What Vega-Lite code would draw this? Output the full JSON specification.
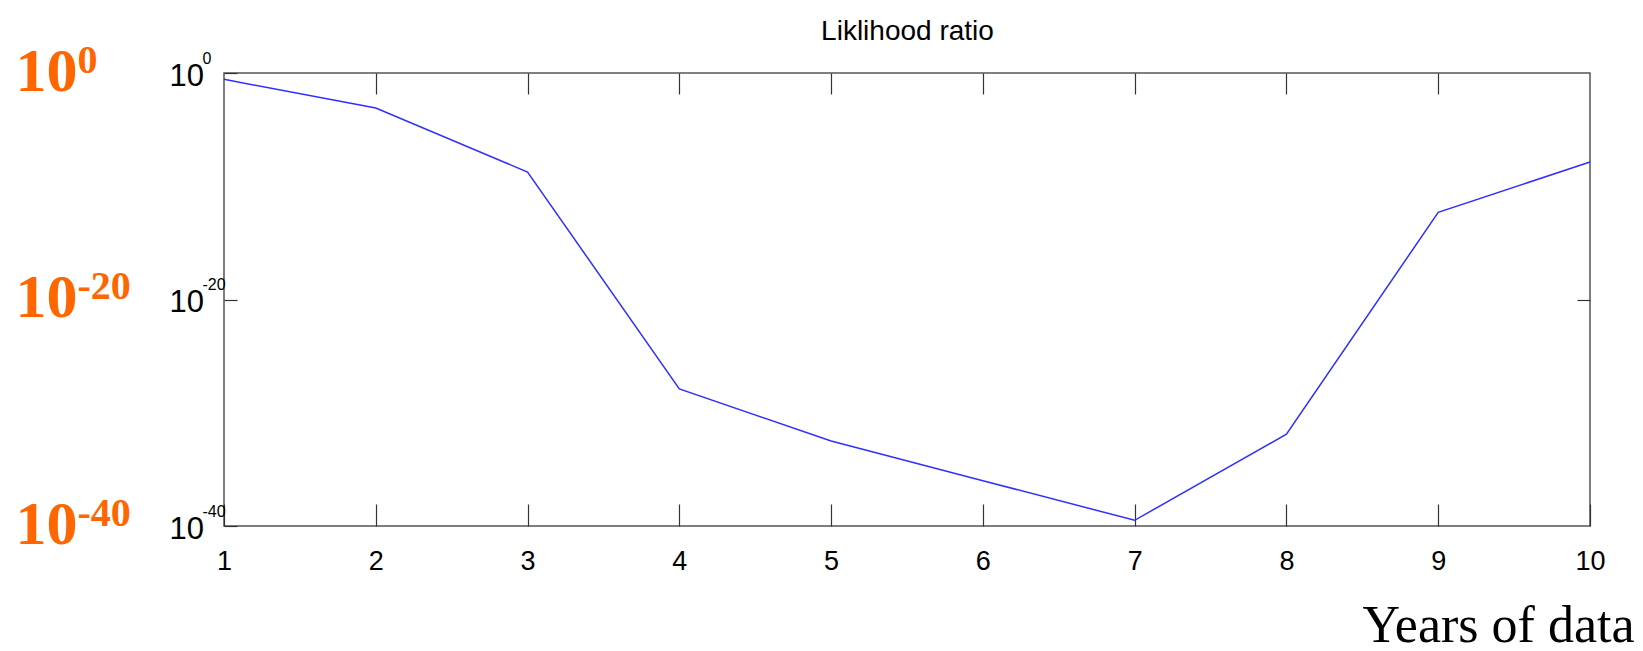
{
  "$schema": "https://vega.github.io/schema/vega-lite/v6.json",
  "width": 1366,
  "height": 453,
  "autosize": {"type": "none"},
  "padding": {"left": 224, "top": 73, "right": 53, "bottom": 125},
  "background": "white",
  "config": {"view": {"stroke": "#555555", "strokeWidth": 1.5}},
  "data": {
    "values": [
      {"year": 1, "ratio": 0.275},
      {"year": 2, "ratio": 8.1e-4},
      {"year": 3, "ratio": 1.8e-9},
      {"year": 4, "ratio": 1.26e-28},
      {"year": 5, "ratio": 3.2e-33},
      {"year": 6, "ratio": 1e-36},
      {"year": 7, "ratio": 3.2e-40},
      {"year": 8, "ratio": 1.26e-32},
      {"year": 9, "ratio": 5e-13},
      {"year": 10, "ratio": 1.4e-8}
    ]
  },
  "layer": [
    {
      "mark": {"type": "line", "color": "#2f2fff", "strokeWidth": 1.5},
      "encoding": {
        "x": {
          "field": "year", "type": "quantitative",
          "scale": {"domain": [1, 10], "nice": false, "zero": false},
          "axis": {
            "orient": "bottom", "values": [1, 2, 3, 4, 5, 6, 7, 8, 9, 10],
            "title": "Years of data", "domain": false, "grid": false,
            "tickSize": -22, "tickColor": "#333333", "tickWidth": 1.2,
            "labelPadding": 44, "labelFlush": false,
            "labelFont": "Liberation Sans Narrow, Liberation Sans, sans-serif",
            "labelFontSize": 27, "labelColor": "black",
            "titleFont": "Liberation Serif, Times New Roman, serif",
            "titleFontSize": 52, "titleFontWeight": "normal", "titleColor": "black",
            "titleAnchor": "end", "titleAlign": "right", "titleBaseline": "alphabetic",
            "titleX": 1410, "titleY": 115
          }
        },
        "y": {
          "field": "ratio", "type": "quantitative",
          "scale": {"type": "log", "domain": [1e-40, 1], "nice": false},
          "axis": {
            "orient": "left", "values": [1, 1e-20, 1e-40],
            "title": null, "domain": false, "grid": false,
            "tickSize": -13, "tickColor": "#333333", "tickWidth": 1.2,
            "labelPadding": 68, "labelAlign": "left", "labelBaseline": "middle", "labelOffset": 3,
            "labelExpr": "'10'",
            "labelFont": "Liberation Sans Narrow, Liberation Sans, sans-serif",
            "labelFontSize": 31, "labelColor": "black"
          }
        }
      }
    },
    {
      "mark": {"type": "line", "opacity": 0},
      "encoding": {
        "x": {
          "field": "year", "type": "quantitative",
          "axis": {
            "orient": "top", "values": [2, 3, 4, 5, 6, 7, 8, 9],
            "title": "Liklihood ratio",
            "titleFont": "Liberation Sans Narrow, Liberation Sans, sans-serif",
            "titleFontSize": 28, "titleFontWeight": "normal", "titleColor": "black",
            "titleAnchor": "middle", "titleAlign": "center", "titleBaseline": "alphabetic",
            "titleX": 683, "titleY": -34,
            "domain": false, "grid": false, "labels": false,
            "tickSize": -21, "tickColor": "#333333", "tickWidth": 1.2
          }
        },
        "y": {
          "field": "ratio", "type": "quantitative",
          "axis": {
            "orient": "right", "values": [1e-20], "title": null,
            "domain": false, "grid": false, "labels": false,
            "tickSize": -13, "tickColor": "#333333", "tickWidth": 1.2
          }
        }
      }
    },
    {
      "mark": {"type": "line", "opacity": 0},
      "encoding": {
        "x": {"field": "year", "type": "quantitative", "axis": null},
        "y": {
          "field": "ratio", "type": "quantitative",
          "axis": {
            "orient": "left", "values": [1, 1e-20, 1e-40], "title": null,
            "domain": false, "grid": false, "ticks": false,
            "labelPadding": 22, "labelAlign": "left", "labelBaseline": "middle", "labelOffset": -15,
            "labelExpr": "datum.value > 0.1 ? '0' : (datum.value > 1e-30 ? '-20' : '-40')",
            "labelFont": "Liberation Sans Narrow, Liberation Sans, sans-serif",
            "labelFontSize": 16, "labelColor": "black"
          }
        }
      }
    },
    {
      "mark": {"type": "line", "opacity": 0},
      "encoding": {
        "x": {"field": "year", "type": "quantitative", "axis": null},
        "y": {
          "field": "ratio", "type": "quantitative",
          "axis": {
            "orient": "left", "values": [1, 1e-20, 1e-40], "title": null,
            "domain": false, "grid": false, "ticks": false,
            "labelPadding": 209, "labelAlign": "left", "labelBaseline": "middle", "labelOffset": -2,
            "labelExpr": "'10'",
            "labelFont": "Liberation Serif, Times New Roman, serif",
            "labelFontSize": 62, "labelFontWeight": "bold", "labelColor": "#ff6600"
          }
        }
      }
    },
    {
      "mark": {"type": "line", "opacity": 0},
      "encoding": {
        "x": {"field": "year", "type": "quantitative", "axis": null},
        "y": {
          "field": "ratio", "type": "quantitative",
          "axis": {
            "orient": "left", "values": [1, 1e-20, 1e-40], "title": null,
            "domain": false, "grid": false, "ticks": false,
            "labelPadding": 147, "labelAlign": "left", "labelBaseline": "middle", "labelOffset": -13,
            "labelExpr": "datum.value > 0.1 ? '0' : (datum.value > 1e-30 ? '-20' : '-40')",
            "labelFont": "Liberation Serif, Times New Roman, serif",
            "labelFontSize": 40, "labelFontWeight": "bold", "labelColor": "#ff6600"
          }
        }
      }
    }
  ],
  "resolve": {"axis": {"x": "independent", "y": "independent"}}
}
